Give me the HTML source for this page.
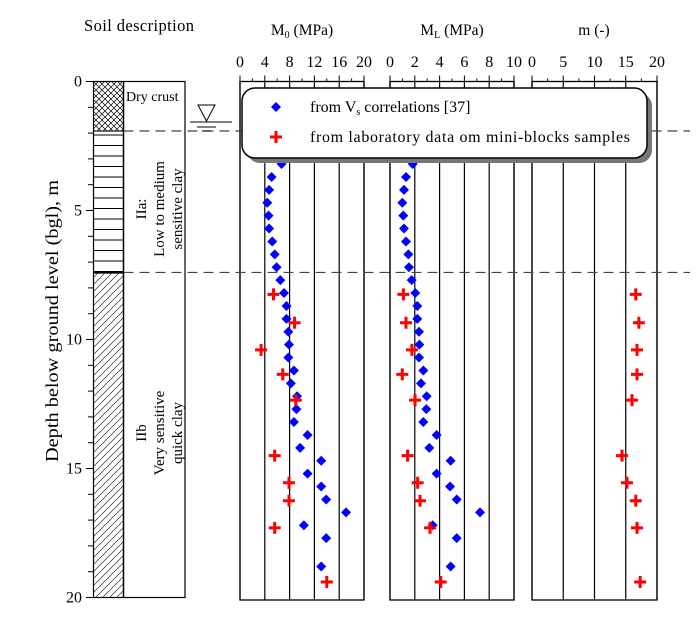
<!DOCTYPE html>
<html><head><meta charset="utf-8">
<style>
html,body{margin:0;padding:0;background:#fff;}
svg{display:block;font-family:"Liberation Serif","DejaVu Serif",serif;}
</style></head>
<body>
<svg id="chart" width="699" height="619" viewBox="0 0 699 619">
<defs>
<pattern id="xhatch" width="6" height="6" patternUnits="userSpaceOnUse">
<path d="M0,0 L6,6 M6,0 L0,6" stroke="#000" stroke-width="0.7"/>
</pattern>
<pattern id="hlines" width="10" height="10.5" patternUnits="userSpaceOnUse">
<line x1="0" y1="9" x2="10" y2="9" stroke="#000" stroke-width="1"/>
</pattern>
<pattern id="dhatch" width="7" height="7" patternUnits="userSpaceOnUse">
<path d="M-1,8 L8,-1 M-1,1 L1,-1 M6,8 L8,6" stroke="#000" stroke-width="0.6"/>
</pattern>
</defs>
<g id="static"></g>
<g id="marks"></g>
</svg>
<script>
const depthM0 = [3.2,3.7,4.2,4.7,5.2,5.7,6.2,6.7,7.2,7.7,8.2,8.7,9.2,9.7,10.2,10.7,11.2,11.7,12.2,12.7,13.2,13.7,14.2,14.7,15.2,15.7,16.2,16.7,17.2,17.7,18.8];
const vsM0 = [6.7,5.1,4.7,4.4,4.6,4.7,5.2,5.6,5.9,6.5,7.1,7.5,7.5,7.8,7.9,7.8,8.7,8.2,9.2,9.1,8.7,10.9,9.7,13.1,10.9,13.1,13.9,17.1,10.3,13.9,13.1];
const vsML = [1.83,1.29,1.13,0.99,1.07,1.13,1.29,1.48,1.53,1.75,2.04,2.2,2.2,2.34,2.37,2.34,2.69,2.5,2.96,2.93,2.69,3.76,3.17,4.89,3.76,4.84,5.38,7.26,3.44,5.38,4.89];
const labDepth = [8.25,9.35,10.4,11.35,12.35,14.5,15.55,16.25,17.3,19.4];
const labM0 = [5.4,8.8,3.4,6.9,9.0,5.6,7.9,7.9,5.6,14.0];
const labML = [1.08,1.29,1.77,0.99,2.02,1.42,2.23,2.42,3.23,4.09];
const labm = [16.6,17.1,16.8,16.8,16.0,14.4,15.2,16.6,16.8,17.3];
const depthTicks = [0,5,10,15,20];
const m0Ticks = [0,4,8,12,16,20];
const mlTicks = [0,2,4,6,8,10];
const mTicks = [0,5,10,15,20];

const NS="http://www.w3.org/2000/svg";
const Y0=81.5, YS=25.8;
const yD = d => Y0 + d*YS;
const panels = [
 {x0:240,x1:364,max:20,ticks:m0Ticks,title:"M",sub:"0",tx:302,name:"m0"},
 {x0:390,x1:514,max:10,ticks:mlTicks,title:"M",sub:"L",tx:452,name:"ml"},
 {x0:532,x1:657,max:20,ticks:mTicks,title:"m (-)",sub:null,tx:594,name:"m"}
];
const xP = (p,v) => p.x0 + v/p.max*(p.x1-p.x0);
const st=document.getElementById('static'), mk=document.getElementById('marks');
function el(tag,attrs,parent,text){const e=document.createElementNS(NS,tag);for(const k in attrs)e.setAttribute(k,attrs[k]);if(text!==undefined)e.textContent=text;(parent||st).appendChild(e);return e;}

// left column
let t=el('text',{x:139,y:31,'font-size':16.5,'text-anchor':'middle',textLength:110},st,'Soil description');

let r=el('rect',{x:93.5,y:yD(0),width:91.5,height:yD(20)-yD(0),fill:'none',stroke:'#000','stroke-width':1.2});

r=el('rect',{x:93.5,y:yD(0),width:30,height:yD(1.92)-yD(0),fill:'url(#xhatch)',stroke:'#000'});

r=el('rect',{x:93.5,y:yD(1.92),width:30,height:yD(7.4)-yD(1.92),fill:'url(#hlines)',stroke:'#000'});

r=el('rect',{x:93.5,y:yD(7.4),width:30,height:yD(20)-yD(7.4),fill:'url(#dhatch)',stroke:'#000'});

el('line',{x1:93.5,y1:yD(7.4),x2:123.5,y2:yD(7.4),stroke:'#000','stroke-width':2.5});
el('line',{x1:123.5,y1:yD(0),x2:123.5,y2:yD(20),stroke:'#000','stroke-width':1.5});
t=el('text',{x:126,y:101,'font-size':14},st,'Dry crust');

t=el('text',{transform:'translate(154,209) rotate(-90)','font-size':15,'text-anchor':'middle'},st);
el('tspan',{x:0,y:-8},t,'IIa:');el('tspan',{x:0,y:10},t,'Low to medium');el('tspan',{x:0,y:28},t,'sensitive clay');

t=el('text',{transform:'translate(154,433) rotate(-90)','font-size':15,'text-anchor':'middle'},st);
el('tspan',{x:0,y:-8},t,'IIb');el('tspan',{x:0,y:10},t,'Very sensitive');el('tspan',{x:0,y:28},t,'quick clay');

for(let d=0; d<=20; d++){el('line',{x1:d%5?88:86,y1:yD(d),x2:93.5,y2:yD(d),stroke:'#000'});}
depthTicks.forEach(d=>{const tt=el('text',{x:82,y:yD(d)+5,'font-size':16,'text-anchor':'end'},st,String(d));
});
t=el('text',{transform:'translate(58,321) rotate(-90)','font-size':18,'text-anchor':'middle',textLength:282,lengthAdjust:'spacingAndGlyphs'},st,'Depth below ground level (bgl), m');


// panels
panels.forEach(p=>{
 const g=el('g',{});
 el('rect',{x:p.x0,y:yD(0),width:p.x1-p.x0,height:600-yD(0),fill:'none',stroke:'#000','stroke-width':1.3},g);
 p.ticks.forEach((v,i)=>{const x=xP(p,v);
  el('line',{x1:x,y1:yD(0),x2:x,y2:600,stroke:'#000','stroke-width':1.2},g);
  el('line',{x1:x,y1:yD(0),x2:x,y2:yD(0)-6,stroke:'#000'},g);
  if(i<p.ticks.length-1){const xm=(x+xP(p,p.ticks[i+1]))/2;el('line',{x1:xm,y1:yD(0),x2:xm,y2:yD(0)-3,stroke:'#000'},g);}
  const tl=el('text',{x:x,y:67,'font-size':16,'text-anchor':'middle'},g,String(v));
  
 });
 const ti=el('text',{x:p.tx,y:35,'font-size':15.5,'text-anchor':'middle'},g);
 
 if(p.sub){el('tspan',{},ti,p.title);el('tspan',{'font-size':10,dy:3},ti,p.sub);el('tspan',{dy:-3},ti,' (MPa)');}
 else ti.textContent=p.title;
});

// dashed lines
[1.92,7.4].forEach(d=>{const l=el('line',{x1:123.5,y1:yD(d),x2:690,y2:yD(d),stroke:'#444','stroke-width':1.2,'stroke-dasharray':'10,6'});
});
// water table
const wt=el('g',{});
el('path',{d:'M198,105 L215,105 L206.5,121 Z',fill:'none',stroke:'#000'},wt);
el('line',{x1:190,y1:122,x2:232,y2:122,stroke:'#000'},wt);
el('line',{x1:197,y1:127,x2:216,y2:127,stroke:'#000'},wt);
el('line',{x1:202,y1:131,x2:211,y2:131,stroke:'#000'},wt);

// marks
function diamond(x,y,name){const d=el('path',{d:`M${x},${y-5} L${x+5},${y} L${x},${y+5} L${x-5},${y} Z`,fill:'#0000ff'},mk);
}
function cross(x,y,name){const c=el('path',{d:`M${x-6},${y} H${x+6} M${x},${y-6} V${y+6}`,stroke:'#ff0000','stroke-width':3},mk);
}
depthM0.forEach((d,i)=>{diamond(xP(panels[0],vsM0[i]),yD(d),'m0-vs-point');diamond(xP(panels[1],vsML[i]),yD(d),'ml-vs-point');});
labDepth.forEach((d,i)=>{cross(xP(panels[0],labM0[i]),yD(d),'m0-lab-point');cross(xP(panels[1],labML[i]),yD(d),'ml-lab-point');cross(xP(panels[2],labm[i]),yD(d),'m-lab-point');});

// legend
const lg=el('g',{},mk);
el('rect',{x:247,y:93,width:405,height:70,rx:13,fill:'#777'},lg);
el('rect',{x:242,y:88,width:405,height:70,rx:13,fill:'#fff',stroke:'#000','stroke-width':1.5},lg);
el('path',{d:'M276,102 L281,107 L276,112 L271,107 Z',fill:'#0000ff'},lg);
el('path',{d:'M270,137 H282 M276,131 V143',stroke:'#ff0000','stroke-width':3},lg);
let le=el('text',{x:310,y:112,'font-size':16},lg);
el('tspan',{},le,'from V');el('tspan',{'font-size':10,dy:3},le,'s');el('tspan',{dy:-3},le,' correlations [37]');

le=el('text',{x:310,y:142,'font-size':16,textLength:320},lg,'from laboratory data om mini-blocks samples');

</script>
</body></html>
